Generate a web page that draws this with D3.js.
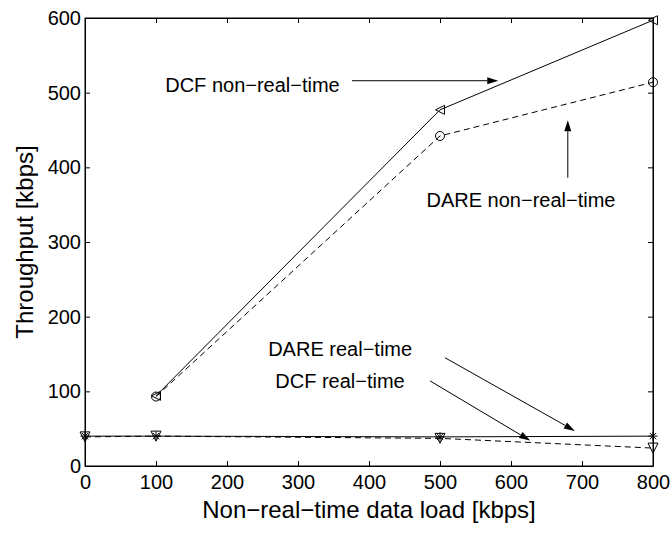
<!DOCTYPE html>
<html>
<head>
<meta charset="utf-8">
<script src="https://cdn.jsdelivr.net/npm/d3@7/dist/d3.min.js"></script>
<style>
html,body{margin:0;padding:0;background:#fff;}
svg{display:block;font-family:"Liberation Sans",Arial,Helvetica,sans-serif;}
</style>
</head>
<body>
<svg id="chart" width="671" height="534"></svg>
<script>
// ---- data ----
const nrtLoad = [100, 500, 800];
const dcfNonRealTime = [94, 477, 597];
const dareNonRealTime = [93, 442, 514];
const rtLoad = [0, 100, 500, 800];
const dareRealTime = [40, 40, 39, 40];
const dcfRealTime = [39, 40, 37, 24];
const xTicks = [0, 100, 200, 300, 400, 500, 600, 700, 800];
const yTicks = [0, 100, 200, 300, 400, 500, 600];
const xTitle = "Non\u2212real\u2212time data load [kbps]";
const yTitle = "Throughput [kbps]";
const labelTexts = ["DCF non\u2212real\u2212time", "DARE non\u2212real\u2212time", "DARE real\u2212time", "DCF real\u2212time"];

// ---- layout ----
const svg = d3.select("#chart");
const L = 85, R = 653, T = 18, B = 466;
const x = d3.scaleLinear().domain([0, 800]).range([L, R]);
const y = d3.scaleLinear().domain([0, 600]).range([B, T]);

// box
svg.append("rect").attr("x", L).attr("y", T).attr("width", R - L).attr("height", B - T)
  .attr("fill", "none").attr("stroke", "#000").attr("stroke-width", 1);

const tickLen = 5;
// axes
const gx = svg.append("g").attr("transform", `translate(0,${B})`)
  .call(d3.axisBottom(x).tickValues(xTicks).tickSizeInner(-tickLen).tickSizeOuter(0).tickPadding(9));
const gxTop = svg.append("g").attr("transform", `translate(0,${T})`)
  .call(d3.axisTop(x).tickValues(xTicks).tickSizeInner(-tickLen).tickSizeOuter(0).tickFormat(""));
const gy = svg.append("g").attr("transform", `translate(${L},0)`)
  .call(d3.axisLeft(y).tickValues(yTicks).tickSizeInner(-tickLen).tickSizeOuter(0).tickPadding(4));
const gyR = svg.append("g").attr("transform", `translate(${R},0)`)
  .call(d3.axisRight(y).tickValues(yTicks).tickSizeInner(-tickLen).tickSizeOuter(0).tickFormat(""));
[gx, gxTop, gy, gyR].forEach(g => {
  g.select(".domain").attr("stroke", "#000");
  g.selectAll(".tick line").attr("stroke", "#000");
  g.selectAll("text").attr("font-size", 20).attr("fill", "#000")
    .attr("font-family", "'Liberation Sans',Arial,sans-serif");
});
gx.selectAll("text").attr("dy", "0.71em");

// titles
svg.append("text").attr("x", (L + R) / 2).attr("y", 518).attr("text-anchor", "middle")
  .attr("font-size", 24).text(xTitle);
svg.append("text").attr("transform", `translate(33,${(T + B) / 2}) rotate(-90)`)
  .attr("text-anchor", "middle").attr("font-size", 24).text(yTitle);

// lines
const line = d3.line().x(d => x(d[0])).y(d => y(d[1]));
function series(xs, ys, dash) {
  const pts = xs.map((v, i) => [v, ys[i]]);
  svg.append("path").attr("d", line(pts)).attr("fill", "none").attr("stroke", "#000")
    .attr("stroke-width", 1).attr("stroke-dasharray", dash ? "6,4" : null);
  return pts;
}
const pDcfNrt = series(nrtLoad, dcfNonRealTime, false);
const pDareNrt = series(nrtLoad, dareNonRealTime, true);
const pDareRt = series(rtLoad, dareRealTime, false);
const pDcfRt = series(rtLoad, dcfRealTime, true);

// markers
const mk = svg.append("g").attr("fill", "none").attr("stroke", "#000").attr("stroke-width", 1);
pDcfNrt.forEach(d => { // left triangle
  const cx = x(d[0]), cy = y(d[1]), s = 4.5;
  mk.append("path").attr("d", `M${cx - s},${cy}L${cx + s},${cy - s}L${cx + s},${cy + s}Z`);
});
pDareNrt.forEach(d => {
  mk.append("circle").attr("cx", x(d[0])).attr("cy", y(d[1])).attr("r", 4.5);
});
pDareRt.forEach(d => { // asterisk
  const cx = x(d[0]), cy = y(d[1]), s = 4.5, t = s * 0.7;
  mk.append("path").attr("d",
    `M${cx - s},${cy}L${cx + s},${cy}M${cx},${cy - s}L${cx},${cy + s}M${cx - t},${cy - t}L${cx + t},${cy + t}M${cx - t},${cy + t}L${cx + t},${cy - t}`);
});
pDcfRt.forEach(d => { // down triangle
  const cx = x(d[0]), cy = y(d[1]), s = 5;
  mk.append("path").attr("d", `M${cx - s},${cy - s}L${cx + s},${cy - s}L${cx},${cy + s}Z`);
});

// annotations (data coordinates)
const ann = [
  {t: labelTexts[0], tx: 113, ty: 501, a: [376, 516, 582, 516]},
  {t: labelTexts[1], tx: 481, ty: 347, a: [680, 386, 680, 463]},
  {t: labelTexts[2], tx: 258, ty: 147, a: [507, 145, 690, 47]},
  {t: labelTexts[3], tx: 268, ty: 104.5, a: [486, 114, 627, 34]}
];
ann.forEach(o => {
  svg.append("text").attr("x", x(o.tx)).attr("y", y(o.ty)).attr("font-size", 20).text(o.t);
  const x1 = x(o.a[0]), y1 = y(o.a[1]), x2 = x(o.a[2]), y2 = y(o.a[3]);
  const ang = Math.atan2(y2 - y1, x2 - x1), hl = 11, hw = 3.5;
  const bx = x2 - hl * Math.cos(ang), by = y2 - hl * Math.sin(ang);
  svg.append("line").attr("x1", x1).attr("y1", y1).attr("x2", bx).attr("y2", by)
    .attr("stroke", "#000").attr("stroke-width", 1);
  const px = -Math.sin(ang) * hw, py = Math.cos(ang) * hw;
  svg.append("path").attr("d", `M${x2},${y2}L${bx + px},${by + py}L${bx - px},${by - py}Z`)
    .attr("fill", "#000");
});
</script>
</body>
</html>
